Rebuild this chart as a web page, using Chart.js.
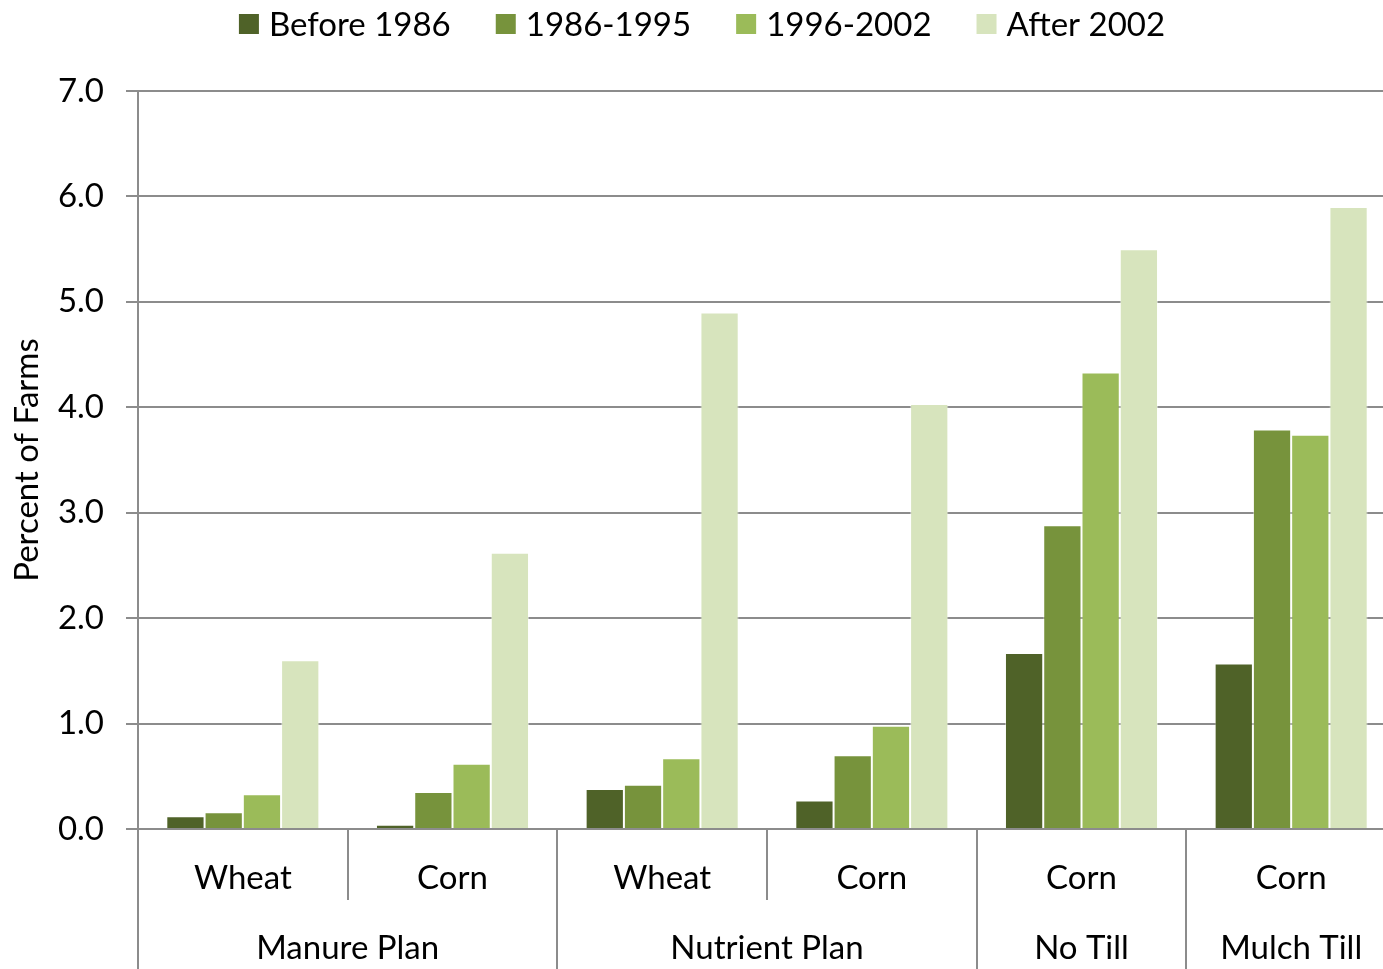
<!DOCTYPE html>
<html>
<head>
<meta charset="utf-8">
<script src="https://cdn.jsdelivr.net/npm/chart.js@4.4.0/dist/chart.umd.min.js"></script>
<style>
    html, body { margin: 0; padding: 0; background: #fff; overflow: hidden; }
    #wrap { width: 1396px; height: 969px; }
</style>
</head>
<body>
<div id="wrap"><canvas id="farmChart" width="1396" height="969"></canvas></div>
<script>
// Chart data
const categories = ['Wheat', 'Corn', 'Wheat', 'Corn', 'Corn', 'Corn'];
const groupLabels = ['Manure Plan', 'Nutrient Plan', 'No Till', 'Mulch Till'];
const groupSpans = [2, 2, 1, 1];

const seriesNames = ['Before 1986', '1986-1995', '1996-2002', 'After 2002'];
const before1986 = [0.12, 0.04, 0.38, 0.27, 1.67, 1.57];
const from1986to1995 = [0.16, 0.35, 0.42, 0.70, 2.88, 3.79];
const from1996to2002 = [0.33, 0.62, 0.67, 0.98, 4.33, 3.74];
const after2002 = [1.60, 2.62, 4.90, 4.03, 5.50, 5.90];
const seriesColors = ['#4F6228', '#77933C', '#9BBB59', '#D7E4BD'];

const yTicks = [0, 1, 2, 3, 4, 5, 6, 7];

const FONT = 'Lato, "Noto Sans", sans-serif';
const FONT_SIZE = 33;
const AXIS_GRAY = '#8c8c8c';

// Legend drawn by hand so it can sit tight at the top of the canvas
const topLegendPlugin = {
    id: 'topLegend',
    afterDraw(chart) {
        const ctx = chart.ctx;
        const box = 20, boxGap = 10, itemGap = 45, centerY = 24;
        ctx.save();
        ctx.font = FONT_SIZE + 'px ' + FONT;
        ctx.textBaseline = 'middle';
        ctx.textAlign = 'left';
        const widths = seriesNames.map(n => box + boxGap + ctx.measureText(n).width);
        const total = widths.reduce((a, b) => a + b, 0) + itemGap * (widths.length - 1);
        let x = (chart.width - total) / 2 + 4;
        seriesNames.forEach((name, i) => {
            ctx.fillStyle = seriesColors[i];
            ctx.fillRect(x, centerY - box / 2, box, box);
            ctx.fillStyle = '#000';
            ctx.fillText(name, x + box + boxGap, centerY + 1);
            x += widths[i] + itemGap;
        });
        ctx.restore();
    }
};

// Draws the two-level category labels and separators under the x axis
const groupedAxisPlugin = {
    id: 'groupedAxis',
    afterDraw(chart) {
        const ctx = chart.ctx;
        const x = chart.scales.x;
        const area = chart.chartArea;
        const step = x.getPixelForValue(1) - x.getPixelForValue(0);
        const innerBottom = area.bottom + 71;
        const outerBottom = chart.height;

        ctx.save();
        ctx.strokeStyle = AXIS_GRAY;
        ctx.lineWidth = 2;
        ctx.fillStyle = '#000';
        ctx.font = FONT_SIZE + 'px ' + FONT;
        ctx.textAlign = 'center';
        ctx.textBaseline = 'middle';

        // inner category labels
        categories.forEach((label, i) => {
            ctx.fillText(label, x.getPixelForValue(i), area.bottom + 49);
        });

        // group labels
        let start = 0;
        const groupEdges = [0];
        groupLabels.forEach((label, g) => {
            const end = start + groupSpans[g];
            const left = x.getPixelForValue(start) - step / 2;
            const right = x.getPixelForValue(end - 1) + step / 2;
            ctx.fillText(label, (left + right) / 2, area.bottom + 119);
            groupEdges.push(end);
            start = end;
        });

        // separators: short ones between crops, long ones between groups
        for (let i = 0; i <= categories.length; i++) {
            const px = Math.round(x.getPixelForValue(i) - step / 2);
            const bottom = groupEdges.includes(i) ? outerBottom : innerBottom;
            ctx.beginPath();
            ctx.moveTo(px, area.bottom);
            ctx.lineTo(px, bottom);
            ctx.stroke();
        }
        ctx.restore();
    }
};

function buildDatasets() {
    const values = [before1986, from1986to1995, from1996to2002, after2002];
    return seriesNames.map((name, i) => ({
        label: name,
        data: values[i],
        backgroundColor: seriesColors[i],
        borderColor: 'rgba(255,255,255,0.45)',
        borderWidth: 1,
        borderSkipped: 'bottom',
        categoryPercentage: 0.73,
        barPercentage: 1.0
    }));
}

document.addEventListener('DOMContentLoaded', () => {
    const ctx = document.getElementById('farmChart').getContext('2d');
    new Chart(ctx, {
        type: 'bar',
        data: {
            labels: categories,
            datasets: buildDatasets()
        },
        options: {
            responsive: false,
            animation: false,
            layout: {
                padding: { top: 91, left: 0, right: 0, bottom: 0 }
            },
            plugins: {
                legend: { display: false },
                tooltip: { enabled: false }
            },
            scales: {
                x: {
                    grid: { display: false },
                    border: { display: false },
                    ticks: { display: false },
                    afterFit(scale) { scale.height = 140; }
                },
                y: {
                    min: 0,
                    max: 7,
                    afterBuildTicks(scale) {
                        scale.ticks = yTicks.map(v => ({ value: v }));
                    },
                    ticks: {
                        color: '#000',
                        padding: 22,
                        font: { family: FONT, size: FONT_SIZE },
                        callback: v => v.toFixed(1)
                    },
                    grid: {
                        color: AXIS_GRAY,
                        lineWidth: 2,
                        tickLength: 12,
                        drawTicks: true
                    },
                    border: { display: true, color: AXIS_GRAY, width: 2 },
                    title: {
                        display: true,
                        text: 'Percent of Farms',
                        color: '#000',
                        font: { family: FONT, size: FONT_SIZE },
                        padding: { top: 8, bottom: 0 }
                    },
                    afterFit(scale) { scale.width = 138; }
                }
            }
        },
        plugins: [groupedAxisPlugin, topLegendPlugin]
    });
});
</script>
</body>
</html>
